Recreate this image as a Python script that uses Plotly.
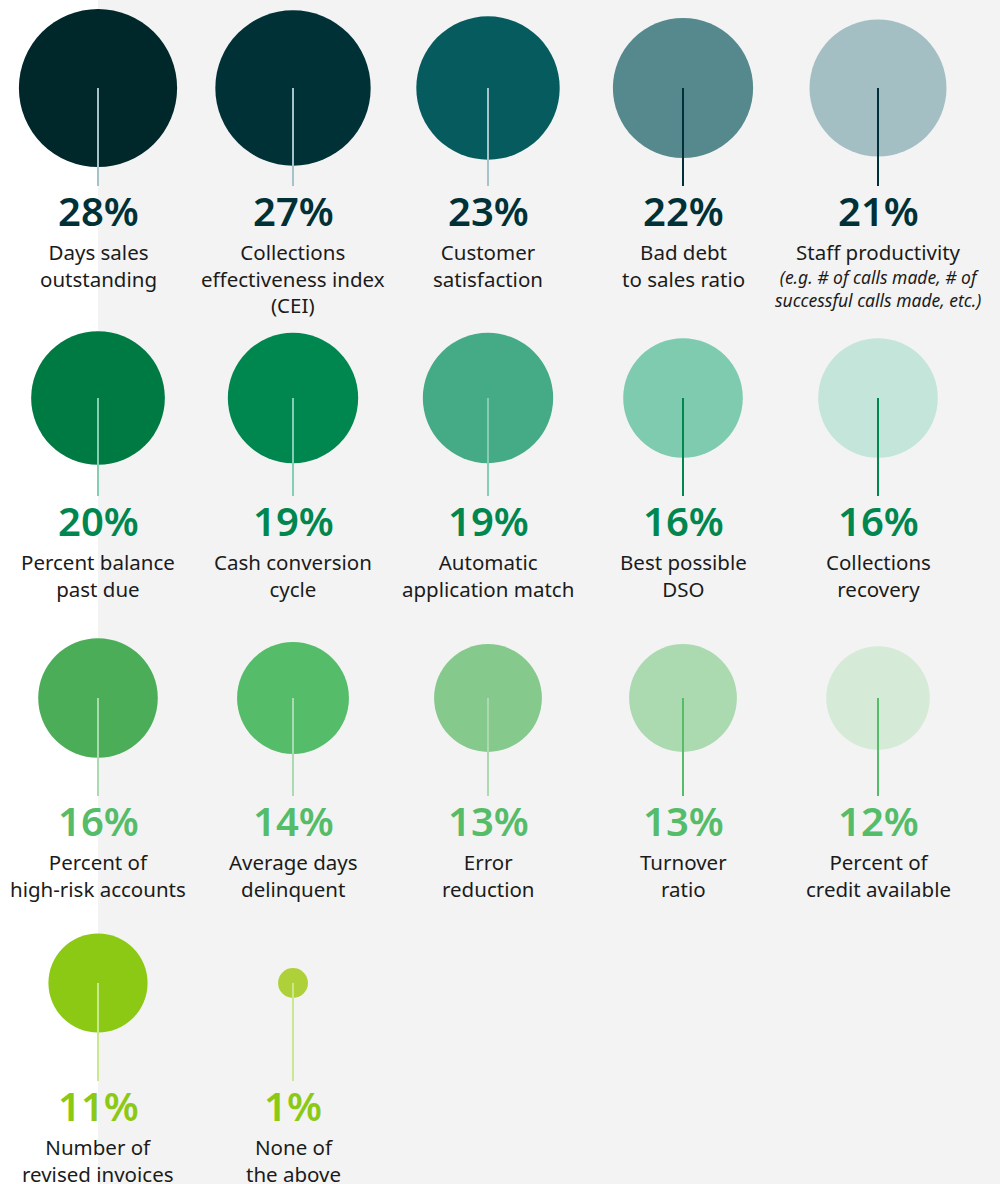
import math
import plotly.graph_objects as go

# Survey results: share of respondents tracking each collections KPI
labels = [
    "Days sales<br>outstanding",
    "Collections<br>effectiveness index<br>(CEI)",
    "Customer<br>satisfaction",
    "Bad debt<br>to sales ratio",
    "Staff productivity",
    "Percent balance<br>past due",
    "Cash conversion<br>cycle",
    "Automatic<br>application match",
    "Best possible<br>DSO",
    "Collections<br>recovery",
    "Percent of<br>high-risk accounts",
    "Average days<br>delinquent",
    "Error<br>reduction",
    "Turnover<br>ratio",
    "Percent of<br>credit available",
    "Number of<br>revised invoices",
    "None of<br>the above",
]
values = [28, 27, 23, 22, 21, 20, 19, 19, 16, 16, 16, 14, 13, 13, 12, 11, 1]
notes = {4: "(e.g. # of calls made, # of<br>successful calls made, etc.)"}

circle_colors = [
    "#00272a", "#003137", "#065b5f", "#56898d", "#a3bfc4",
    "#007a43", "#00874f", "#45aa86", "#7ecbb0", "#c4e5d9",
    "#4bad58", "#55bc69", "#86c98c", "#acdab0", "#d5ead7",
    "#8cc914", "#aed13a",
]
stem_colors = [
    "#a5c3c8", "#a5c3c8", "#a5c3c8", "#00313a", "#00313a",
    "#86ceb3", "#86ceb3", "#86ceb3", "#00874f", "#00874f",
    "#acdab0", "#acdab0", "#acdab0", "#55bc69", "#55bc69",
    "#c9e88f", "#c9e88f",
]
value_colors = ["#003137", "#00874f", "#55bc69", "#8cc914"]  # one per row

# Grid layout (pixel space)
col_x = [98, 293, 488, 683, 878]
row_y = [88, 398, 698, 983]
n_cols = 5
stem_len = 98
size_per_sqrt = 29.9  # marker diameter per sqrt(percent), area ∝ value

xs = [col_x[i % n_cols] for i in range(len(values))]
ys = [row_y[i // n_cols] for i in range(len(values))]
sizes = [size_per_sqrt * math.sqrt(v) for v in values]

fig = go.Figure()

# Bubbles
fig.add_trace(go.Scatter(
    x=xs, y=ys, mode="markers",
    marker=dict(size=sizes, sizemode="diameter", color=circle_colors,
                line=dict(width=0), opacity=1),
    hoverinfo="skip", showlegend=False,
))

# Stems from bubble centre down to the value label
for i, (x, y) in enumerate(zip(xs, ys)):
    fig.add_trace(go.Scatter(
        x=[x, x], y=[y, y + stem_len], mode="lines",
        line=dict(color=stem_colors[i], width=2),
        hoverinfo="skip", showlegend=False,
    ))

font_family = "Noto Sans"
annotations = []
for i, (x, y, v, lab) in enumerate(zip(xs, ys, values, labels)):
    row = i // n_cols
    annotations.append(dict(
        x=x, y=y + 122, xref="x", yref="y", text=f"{v}%",
        showarrow=False, xanchor="center", yanchor="middle",
        font=dict(family=font_family, size=40, color=value_colors[row], weight=600),
    ))
    annotations.append(dict(
        x=x, y=y + 148, xref="x", yref="y", text=lab,
        showarrow=False, xanchor="center", yanchor="top", align="center",
        font=dict(family=font_family, size=20.5, color="#1b1b1b"),
    ))
    if i in notes:
        annotations.append(dict(
            x=x, y=y + 175, xref="x", yref="y", text=notes[i],
            showarrow=False, xanchor="center", yanchor="top", align="center",
            font=dict(family=font_family, size=17.5, color="#1b1b1b", style="italic"),
        ))

fig.update_layout(
    width=1000, height=1184,
    margin=dict(l=0, r=0, t=0, b=0),
    paper_bgcolor="#ffffff",
    plot_bgcolor="rgba(0,0,0,0)",
    xaxis=dict(range=[0, 1000], visible=False, fixedrange=True),
    yaxis=dict(range=[1184, 0], visible=False, fixedrange=True),
    shapes=[dict(type="rect", xref="x", yref="y", x0=98, x1=1000, y0=0, y1=1184,
                 fillcolor="#f3f3f3", line=dict(width=0), layer="below")],
    annotations=annotations,
)

fig.write_html("out.html")
